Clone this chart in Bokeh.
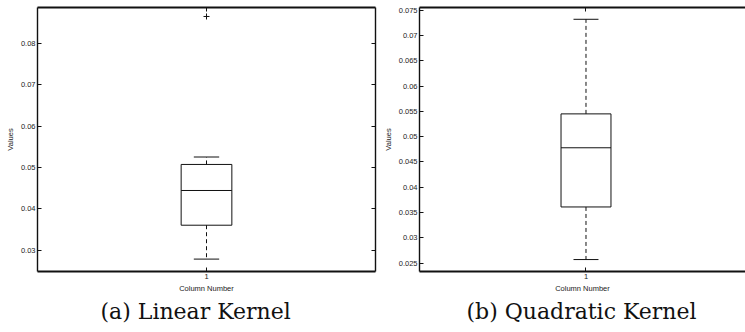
from bokeh.plotting import figure
from bokeh.layouts import row
from bokeh.models import LinearAxis, FixedTicker, Title, ColumnDataSource
from bokeh.embed import file_html
from bokeh.resources import INLINE

# ---- data ----
categories = [1]
x_tick_labels = ["1"]

lin_lower_whisker = [0.0278]
lin_q1 = [0.0360]
lin_median = [0.0444]
lin_q3 = [0.0507]
lin_upper_whisker = [0.0525]
lin_outliers = [0.0865]
lin_yticks = [0.03, 0.04, 0.05, 0.06, 0.07, 0.08]
lin_ytick_labels = ["0.03", "0.04", "0.05", "0.06", "0.07", "0.08"]

quad_lower_whisker = [0.0257]
quad_q1 = [0.0361]
quad_median = [0.0478]
quad_q3 = [0.0545]
quad_upper_whisker = [0.0732]
quad_outliers = []
quad_yticks = [0.025, 0.03, 0.035, 0.04, 0.045, 0.05, 0.055, 0.06, 0.065, 0.07, 0.075]
quad_ytick_labels = ["0.025", "0.03", "0.035", "0.04", "0.045", "0.05", "0.055",
                     "0.06", "0.065", "0.07", "0.075"]

captions = ["(a) Linear Kernel", "(b) Quadratic Kernel"]

BOX_HALF = 0.075
CAP_HALF = 0.0375
TICK_FONT = "Liberation Sans"
TICK_SIZE = "7.5px"
INK = "#111111"
TXT = "#222222"


def style_axis(ax, line_w):
    ax.major_tick_in = 4
    ax.major_tick_out = 0
    ax.minor_tick_line_color = None
    ax.major_tick_line_color = INK
    ax.axis_line_color = INK
    ax.axis_line_width = line_w
    ax.major_label_text_font = TICK_FONT
    ax.major_label_text_font_size = TICK_SIZE
    ax.major_label_text_color = TXT
    ax.major_label_standoff = 2
    ax.axis_label_text_font = TICK_FONT
    ax.axis_label_text_font_size = TICK_SIZE
    ax.axis_label_text_font_style = "normal"
    ax.axis_label_text_color = TXT
    ax.axis_label_standoff = 3


def mirror_axis(ticks, line_w):
    ax = LinearAxis(ticker=FixedTicker(ticks=ticks))
    style_axis(ax, line_w)
    ax.major_label_text_color = None
    ax.major_label_standoff = 0
    return ax


def make_panel(width, min_left, min_right, min_top, xr, yr, lw, q1, med, q3, uw, outl,
               yticks, ylabels, caption, cap_offset, mirror_right):
    p = figure(width=width, height=332, x_range=xr, y_range=yr,
               output_backend="svg", toolbar_location=None,
               min_border_left=min_left, min_border_right=min_right,
               min_border_top=min_top, min_border_bottom=61)
    p.outline_line_color = None
    p.grid.visible = False
    p.background_fill_color = "white"

    xa = p.xaxis[0]
    xa.ticker = FixedTicker(ticks=categories)
    xa.major_label_overrides = {c: l for c, l in zip(categories, x_tick_labels)}
    xa.axis_label = "Column Number"
    style_axis(xa, 2)
    xa.axis_label_standoff = 2

    ya = p.yaxis[0]
    ya.ticker = FixedTicker(ticks=yticks)
    ya.major_label_overrides = {t: l for t, l in zip(yticks, ylabels)}
    ya.axis_label = "Values"
    style_axis(ya, 1.4)

    p.add_layout(mirror_axis(categories, 2), "above")
    if mirror_right:
        p.add_layout(mirror_axis(yticks, 1.4), "right")

    src = ColumnDataSource(dict(
        x=categories, l=[c - BOX_HALF for c in categories],
        r=[c + BOX_HALF for c in categories],
        cl=[c - CAP_HALF for c in categories],
        cr=[c + CAP_HALF for c in categories],
        lw=lw, q1=q1, med=med, q3=q3, uw=uw))

    # whiskers
    p.segment(x0="x", y0="q3", x1="x", y1="uw", source=src,
              line_color=INK, line_width=1, line_dash="4 3")
    p.segment(x0="x", y0="q1", x1="x", y1="lw", source=src,
              line_color=INK, line_width=1, line_dash="4 3")
    # caps
    p.segment(x0="cl", y0="uw", x1="cr", y1="uw", source=src,
              line_color=INK, line_width=1)
    p.segment(x0="cl", y0="lw", x1="cr", y1="lw", source=src,
              line_color=INK, line_width=1)
    # box
    p.quad(left="l", right="r", bottom="q1", top="q3", source=src,
           fill_color=None, line_color=INK, line_width=1)
    # median
    p.segment(x0="l", y0="med", x1="r", y1="med", source=src,
              line_color=INK, line_width=1)
    # outliers
    if outl:
        p.scatter(x=[categories[0]] * len(outl), y=outl, marker="cross",
                  size=6, line_color=INK, line_width=1)

    t = Title(text=caption, align="left", text_font="DejaVu Serif",
              text_font_size="22px", text_font_style="normal",
              text_color="#111111", offset=cap_offset, standoff=2)
    p.add_layout(t, "below")
    return p


p1 = make_panel(380, 37, 5, 4, (0.5, 1.5), (0.0248, 0.08867),
                lin_lower_whisker, lin_q1, lin_median, lin_q3, lin_upper_whisker,
                lin_outliers, lin_yticks, lin_ytick_labels, captions[0], 63, True)
p2 = make_panel(365, 39, 0, 7, (0.5, 1.479), (0.02334, 0.07553),
                quad_lower_whisker, quad_q1, quad_median, quad_q3, quad_upper_whisker,
                quad_outliers, quad_yticks, quad_ytick_labels, captions[1], 47, False)

layout = row(p1, p2)
open("out.html", "w").write(file_html(layout, INLINE))
